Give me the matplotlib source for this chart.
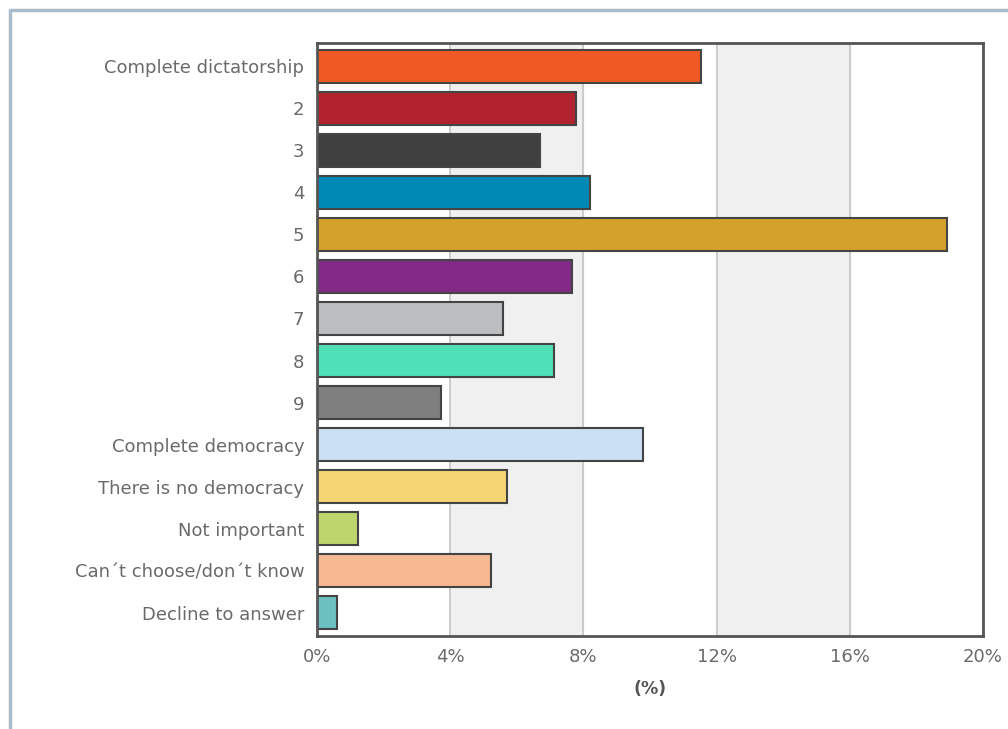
import matplotlib
matplotlib.use("Agg")
import matplotlib.pyplot as plt
from matplotlib.lines import Line2D

plt.rcParams["font.family"] = ["DejaVu Sans"]

categories = [
    "Complete dictatorship", "2", "3", "4", "5", "6", "7", "8", "9",
    "Complete democracy", "There is no democracy", "Not important",
    "Can\u00b4t choose/don\u00b4t know", "Decline to answer",
]
values = [11.54, 7.78, 6.69, 8.2, 18.92, 7.67, 5.59, 7.11, 3.71,
          9.79, 5.72, 1.22, 5.23, 0.61]
colors = ["#ef5a24", "#b2222e", "#404040", "#0089b4", "#d4a22a", "#832a86",
          "#bdbec0", "#50e0b8", "#7f7f7f", "#cce0f4", "#f5d574", "#bed56e",
          "#f7b992", "#6cc0bf"]
xticks = [0, 4, 8, 12, 16, 20]
xlabels = ["0%", "4%", "8%", "12%", "16%", "20%"]

fig = plt.figure(figsize=(10.08, 7.29), dpi=100)
ax = fig.add_axes([317 / 1008, 1 - 636 / 729, (983 - 317) / 1008, (636 - 43) / 729])

# alternating bands
for i in range(1, len(xticks) - 1, 2):
    ax.axvspan(xticks[i], xticks[i + 1], color="#f0f0f0", zorder=0)
for t in xticks[1:-1]:
    ax.axvline(t, color="#c4c4c4", lw=1.2, zorder=1)

ypos = list(range(len(categories)))
ax.barh(ypos, values, height=0.78, color=colors, edgecolor="#444444",
        linewidth=1.5, zorder=3)

ax.set_ylim(len(categories) - 0.45, -0.55)
ax.set_xlim(0, 20)
ax.set_yticks(ypos)
ax.set_yticklabels(categories)
ax.set_xticks(xticks)
ax.set_xticklabels(xlabels)
ax.tick_params(length=0, labelsize=13, colors="#6a6a6a")
ax.tick_params(axis="y", pad=9)
ax.tick_params(axis="x", pad=9)
ax.set_xlabel("(%)", fontsize=12.5, fontweight="bold", color="#555555", labelpad=10)
for s in ax.spines.values():
    s.set_color("#555555")
    s.set_linewidth(2)
    s.set_zorder(4)

# outer frame (left and top)
fig.add_artist(Line2D([9.5 / 1008, 9.5 / 1008, 1.0], [0.0, 1 - 9.5 / 729, 1 - 9.5 / 729],
                      transform=fig.transFigure, color="#a9bccb", lw=2.5))

fig.savefig("out.png", dpi=100)
